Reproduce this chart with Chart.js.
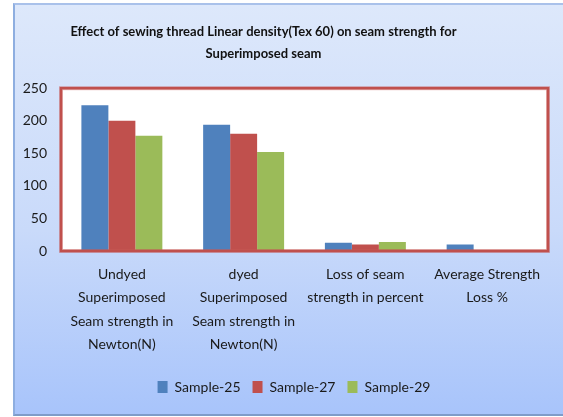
<!DOCTYPE html>
<html>
<head>
<meta charset="utf-8">
<script src="https://cdn.jsdelivr.net/npm/chart.js@4.4.0/dist/chart.umd.min.js"></script>
<style>
  html, body { margin: 0; padding: 0; background: #ffffff; }
  #frame {
    position: absolute; left: 13px; top: 3px; width: 560px; height: 409px;
    border-left: 2px solid #8eaee0; border-top: 2px solid #a9c1ea; border-bottom: 2px solid #7f9cc9;
    background: linear-gradient(to bottom, #dde8fb 0%, #c9dafa 55%, #a8c4fb 100%);
  }
  #wrap { position: absolute; left: 0; top: 0; width: 563px; height: 417px; }
</style>
</head>
<body>
<div id="frame"></div>
<div id="wrap"><canvas id="c" width="563" height="417"></canvas></div>
<script>
const categories = [
  ["Undyed", "Superimposed", "Seam strength in", "Newton(N)"],
  ["dyed", "Superimposed", "Seam strength in", "Newton(N)"],
  ["Loss of seam", "strength in percent"],
  ["Average Strength", "Loss %"]
];
const seriesNames = ["Sample-25", "Sample-27", "Sample-29"];
const sample25 = [224, 194, 12.5, 10];
const sample27 = [200, 180, 10, 0];
const sample29 = [177, 152, 14, 0];
const yTicks = [0, 50, 100, 150, 200, 250];
const colors = ["#4f81bd", "#c0504d", "#9bbb59"];

const plotFrame = {
  id: 'plotFrame',
  afterLayout(chart) {
    if (chart.legend) { chart.legend.left = 40; chart.legend.right = 548; }
    if (chart.titleBlock) { chart.titleBlock.left = 0; chart.titleBlock.right = 527; }
  },
  beforeDatasetsDraw(chart) {
    const {ctx, chartArea: a} = chart;
    ctx.save();
    ctx.fillStyle = '#ffffff';
    ctx.fillRect(a.left, a.top, a.right - a.left, a.bottom - a.top);
    ctx.restore();
  },
  afterDatasetsDraw(chart) {
    const {ctx, chartArea: a} = chart;
    ctx.save();
    ctx.strokeStyle = 'rgba(200,90,88,0.45)';
    ctx.lineWidth = 4;
    ctx.strokeRect(a.left, a.top, a.right - a.left, a.bottom - a.top);
    ctx.strokeStyle = '#c0504d';
    ctx.lineWidth = 2.5;
    ctx.strokeRect(a.left, a.top, a.right - a.left, a.bottom - a.top);
    ctx.restore();
  }
};

const font = "Lato, 'DejaVu Sans', sans-serif";

new Chart(document.getElementById('c'), {
  type: 'bar',
  data: {
    labels: categories,
    datasets: [
      { label: seriesNames[0], data: sample25, backgroundColor: colors[0] },
      { label: seriesNames[1], data: sample27, backgroundColor: colors[1] },
      { label: seriesNames[2], data: sample29, backgroundColor: colors[2] }
    ]
  },
  options: {
    responsive: false,
    animation: false,
    devicePixelRatio: 1,
    layout: { padding: { left: 0, right: 15, top: 0, bottom: 13 } },
    datasets: { bar: { categoryPercentage: 0.665, barPercentage: 1.0 } },
    scales: {
      x: {
        grid: { display: false },
        border: { display: false },
        ticks: { color: '#1a1a1a', font: { family: font, size: 14, lineHeight: 1.66 }, padding: 4, maxRotation: 0, autoSkip: false },
        afterFit(s) { s.height = 117; }
      },
      y: {
        min: 0, max: 250,
        afterBuildTicks(s) { s.ticks = yTicks.map(v => ({ value: v })); },
        grid: { display: false, drawTicks: false },
        border: { display: false },
        ticks: { color: '#1a1a1a', font: { family: font, size: 14 }, padding: 14 },
        afterFit(s) { s.width = 61; }
      }
    },
    plugins: {
      title: {
        display: true,
        text: ["Effect of sewing thread Linear density(Tex 60) on seam strength for", "Superimposed seam"],
        color: '#111111',
        font: { family: font, size: 13, weight: 'bold', lineHeight: 1.7 },
        padding: { top: 21, bottom: 23 }
      },
      legend: {
        position: 'bottom',
        labels: { color: '#1a1a1a', font: { family: font, size: 14 }, boxWidth: 10, boxHeight: 12, padding: 12 }
      },
      tooltip: { enabled: false }
    }
  },
  plugins: [plotFrame]
});
</script>
</body>
</html>
